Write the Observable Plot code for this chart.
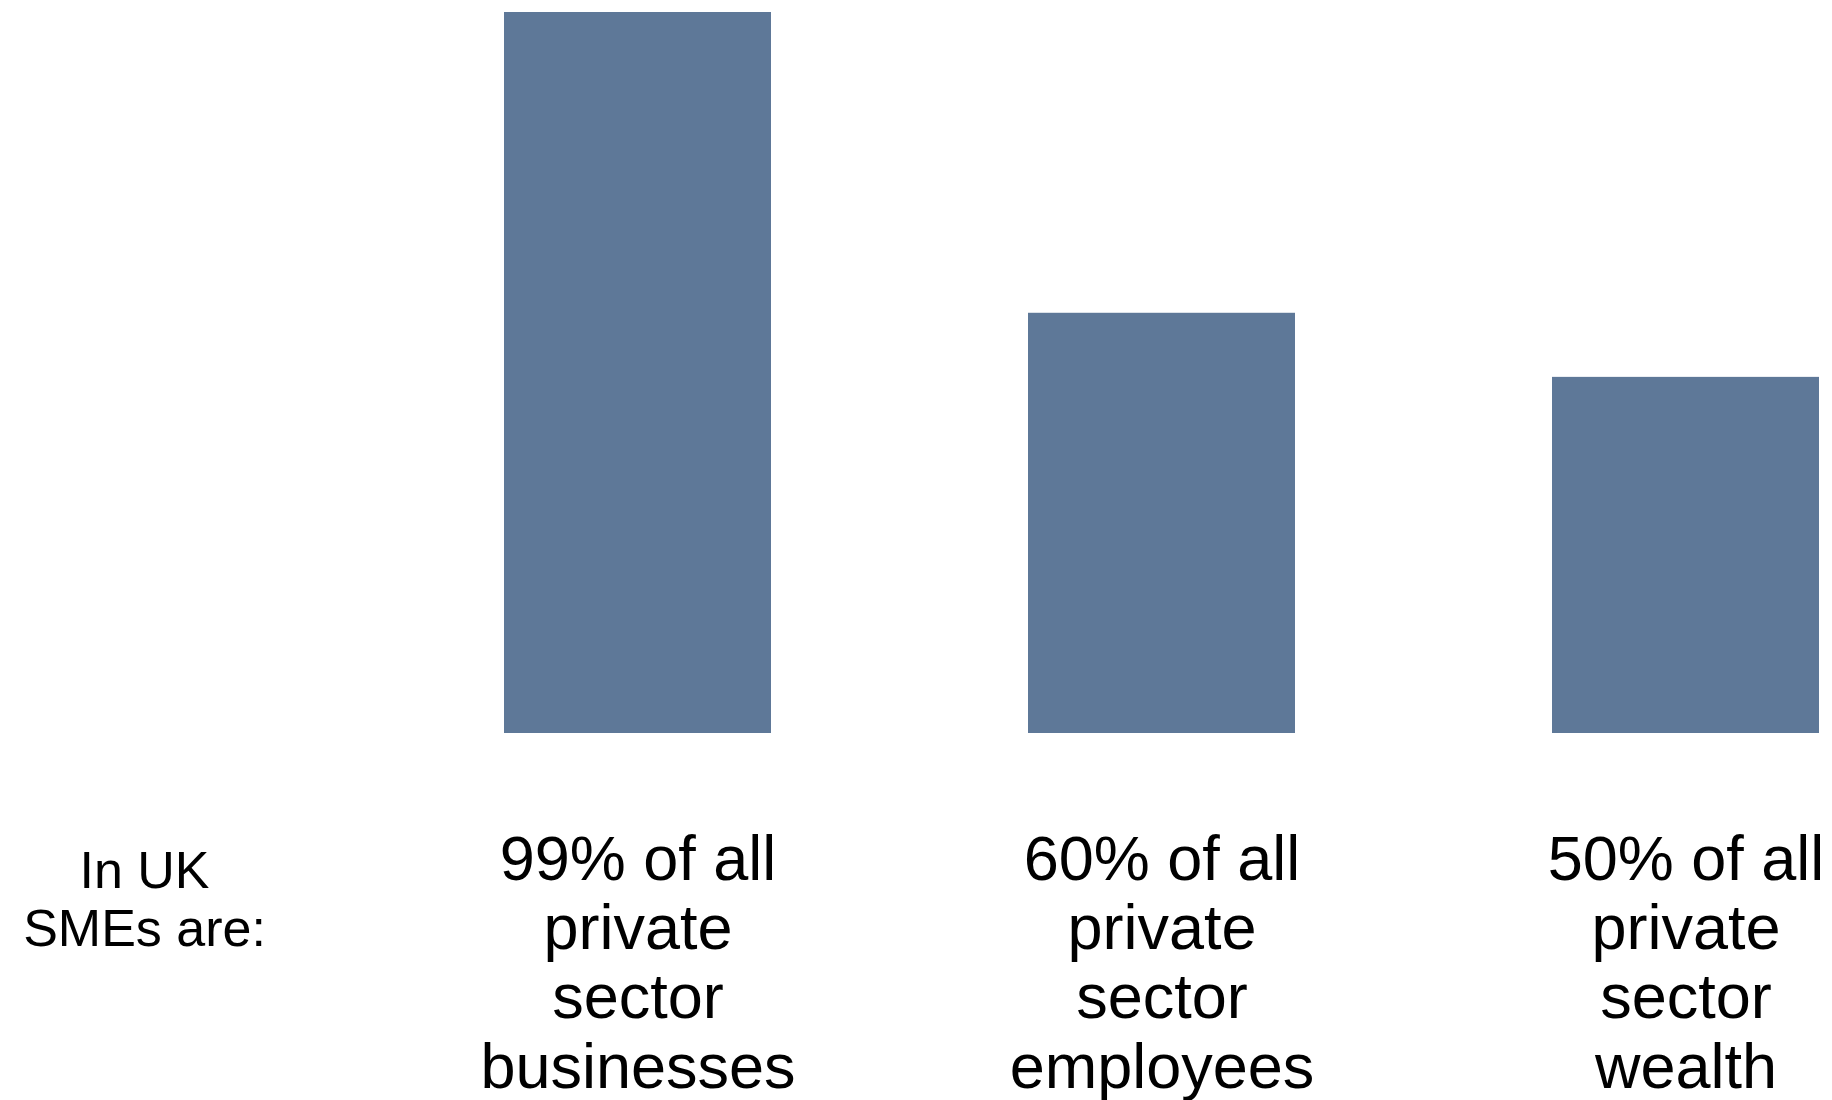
<!DOCTYPE html>
<html>
<head>
<meta charset="utf-8">
<script src="https://cdn.jsdelivr.net/npm/d3@7"></script>
<script src="https://cdn.jsdelivr.net/npm/@observablehq/plot@0.6"></script>
<style>
  html, body { margin: 0; padding: 0; background: #ffffff; }
  #chart svg { display: block; }
</style>
</head>
<body>
<div id="chart"></div>
<script>
const categories = ["businesses", "employees", "wealth"];
const barValues = [99, 57.7, 48.9];
const barLabels = [
  "99% of all\nprivate\nsector\nbusinesses",
  "60% of all\nprivate\nsector\nemployees",
  "50% of all\nprivate\nsector\nwealth"
];
const introLabel = "In UK\nSMEs are:";

const data = categories.map((c, i) => ({category: c, value: barValues[i], label: barLabels[i]}));

const chart = Plot.plot({
  width: 1832,
  height: 1100,
  marginTop: 12,
  marginBottom: 367,
  marginLeft: 0,
  marginRight: 0,
  style: {background: "#ffffff", fontFamily: "'Liberation Sans', Arial, sans-serif"},
  x: {domain: categories, range: [504, 1820], paddingInner: 0.49, paddingOuter: 0, axis: null},
  y: {domain: [0, 99], axis: null},
  marks: [
    Plot.barY(data, {x: "category", y: "value", fill: "#5e7898"}),
    Plot.text(data, {
      x: "category",
      text: "label",
      frameAnchor: "bottom",
      lineAnchor: "top",
      textAnchor: "middle",
      dy: 97,
      fontSize: 63,
      lineHeight: 1.1,
      fill: "#000000"
    }),
    Plot.text([introLabel], {
      text: d => d,
      frameAnchor: "bottom-left",
      lineAnchor: "top",
      textAnchor: "middle",
      dx: 144,
      dy: 113,
      fontSize: 52,
      lineHeight: 1.115,
      fill: "#000000"
    })
  ]
});

document.getElementById("chart").appendChild(chart);
</script>
</body>
</html>
